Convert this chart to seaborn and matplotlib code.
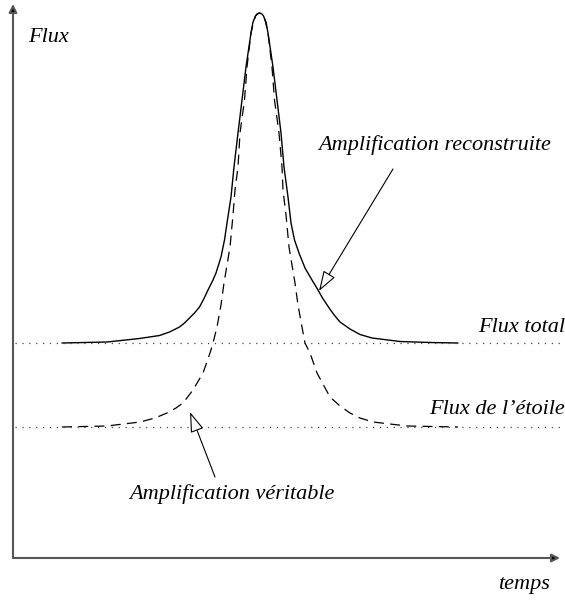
import matplotlib
matplotlib.use("Agg")
import matplotlib.pyplot as plt
import seaborn as sns
import pandas as pd

# courbes (temps et flux en unites arbitraires)
temps_reconstruite = [4.9, 9.4, 12.65, 13.65, 14.65, 15.65, 16.65, 17.15, 17.65, 18.15,
                      18.65, 19.1, 19.5, 20.0, 20.3, 20.8, 21.15, 21.4, 21.8, 22.1,
                      22.5, 22.9, 23.3, 23.8, 24.0, 24.25, 24.4, 24.65,
                      24.9, 25.05, 25.3, 25.5, 26.0, 26.4, 26.8, 27.1, 27.5, 27.8,
                      28.15, 28.6, 29.2, 29.9, 30.5, 30.95, 31.75, 32.2, 32.7, 33.7,
                      34.7, 35.9, 38.7, 41.7, 44.5]
flux_reconstruite = [21.5, 21.6, 21.95, 22.1, 22.25, 22.6, 23.1, 23.5, 24.0, 24.5,
                     25.1, 25.95, 26.8, 27.8, 28.5, 30.1, 31.8, 33.5, 36.1, 39.1,
                     42.5, 45.8, 49.1, 52.5, 53.6, 54.2, 54.4, 54.5,
                     54.4, 54.2, 53.6, 52.5, 49.1, 45.8, 42.5, 39.1, 36.1, 33.5,
                     31.8, 30.5, 29.0, 27.8, 26.8, 26.0, 24.8, 24.2, 23.6, 22.9,
                     22.35, 22.0, 21.65, 21.55, 21.5]

temps_veritable = [4.9, 9.4, 12.7, 14.2, 15.4, 16.3, 17.0, 18.0, 19.0, 19.7,
                   20.0, 20.4, 20.8, 21.1, 21.7, 22.0, 22.2, 22.5, 22.7, 23.15,
                   23.4, 23.8, 24.05, 24.25, 24.45, 24.65,
                   24.85, 25.05, 25.25, 25.5, 25.9, 26.15, 26.6, 26.9, 27.0, 27.3,
                   27.6, 28.2, 28.5, 28.9, 29.2, 29.7, 30.4, 31.7, 32.7, 33.7,
                   34.7, 36.0, 39.4, 44.5]
flux_veritable = [13.1, 13.2, 13.6, 14.0, 14.5, 15.0, 15.5, 16.8, 18.5, 20.5,
                  21.5, 23.1, 25.3, 27.5, 31.1, 34.3, 36.8, 39.1, 42.5, 45.8,
                  49.1, 52.5, 53.6, 54.2, 54.4, 54.5,
                  54.4, 54.2, 53.6, 52.5, 49.1, 45.8, 42.5, 39.1, 36.8, 34.3,
                  31.1, 27.5, 25.3, 23.1, 21.5, 20.5, 18.5, 16.1, 15.2, 14.5,
                  14.0, 13.6, 13.2, 13.1]

flux_total = 21.5
flux_etoile = 13.1

W, H = 565, 601
sns.set_style("white")
plt.rcParams["font.family"] = ["Liberation Serif", "DejaVu Serif"]

fig = plt.figure(figsize=(W / 100, H / 100), dpi=100)
# axes: origine en (13, 558) px, fleches jusqu'a (560, 4) px
ax = fig.add_axes([13 / W, (H - 558) / H, (560 - 13) / W, (558 - 4) / H])
ax.set_xlim(0, 54.7)
ax.set_ylim(0, 55.4)
ax.axis("off")

df_rec = pd.DataFrame({"temps": temps_reconstruite, "flux": flux_reconstruite})
df_ver = pd.DataFrame({"temps": temps_veritable, "flux": flux_veritable})

sns.lineplot(data=df_rec, x="temps", y="flux", ax=ax, color="black", lw=1.0,
             sort=False, estimator=None)
sns.lineplot(data=df_ver, x="temps", y="flux", ax=ax, color="black", lw=0.9,
             sort=False, estimator=None, linestyle=(0, (8, 5)))

for niveau in (flux_total, flux_etoile):
    ax.plot([0.2, 55.2], [niveau, niveau], color="#444444", lw=0.9,
            linestyle=(0, (1, 4.5)), clip_on=False)

# axes avec fleches
for fin in [(1, 0), (0, 1)]:
    ax.annotate("", xy=fin, xytext=(0, 0), xycoords="axes fraction",
                arrowprops=dict(arrowstyle="-|>", color="#555555", lw=1.5,
                                mutation_scale=12, shrinkA=0, shrinkB=0,
                                fc="black", ec="#555555"))

txt = dict(style="italic", fontsize=16, color="black")
ax.text(1.5, 52.1, "Flux", ha="left", va="center", **txt)
ax.text(51.1, -2.7, "temps", ha="center", va="center", **txt)
ax.text(55.2, 23.1, "Flux total", ha="right", va="center", **txt)
ax.text(55.2, 14.8, "Flux de l\u2019\u00e9toile", ha="right", va="center", **txt)

ouverte = dict(arrowstyle="-|>,head_length=0.9,head_width=0.3", fc="white",
               ec="black", lw=0.8, mutation_scale=14, shrinkA=0, shrinkB=0)
ax.annotate("", xy=(30.6, 26.7), xytext=(38.0, 38.9), arrowprops=ouverte)
ax.annotate("", xy=(17.7, 14.6), xytext=(20.2, 8.1), arrowprops=ouverte)
ax.text(42.2, 41.3, "Amplification reconstruite", ha="center", va="center", **txt)
ax.text(21.9, 6.4, "Amplification v\u00e9ritable", ha="center", va="center", **txt)

fig.savefig("out.png", dpi=100)
